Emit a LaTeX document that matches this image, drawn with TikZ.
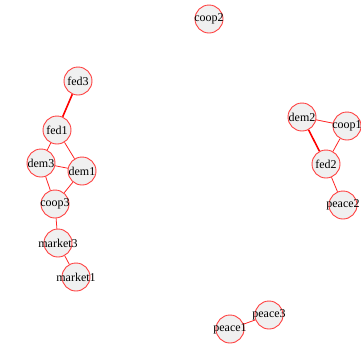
\documentclass[tikz,border=0pt]{standalone}
\usepackage{fontspec}
\setmainfont{Liberation Serif}
\begin{document}
\begin{tikzpicture}[x=1pt,y=-1pt,
  vert/.style={circle,draw=red!75,line width=0.9pt,fill=gray!12,minimum size=28pt,inner sep=0pt,
    font=\fontsize{12}{13}\selectfont},
  tie/.style={red!85,line width=0.8pt},
  strongtie/.style={red,line width=1.6pt}]
\useasboundingbox (0,0) rectangle (361,349);
% vertices (labels may overflow the fixed-size circle)
\newcommand{\vlabel}[1]{\makebox[0pt]{#1}}
\node[vert] (coop2) at (209,19) {\vlabel{coop2}};
\node[vert] (fed3) at (78,81) {\vlabel{fed3}};
\node[vert] (fed1) at (57,130) {\vlabel{fed1}};
\node[vert] (dem3) at (41,163) {\vlabel{dem3}};
\node[vert] (dem1) at (82,171) {\vlabel{dem1}};
\node[vert] (coop3) at (55,204) {\vlabel{coop3}};
\node[vert] (market3) at (58,243) {\vlabel{market3}};
\node[vert] (market1) at (76,277) {\vlabel{market1}};
\node[vert] (dem2) at (302,117) {\vlabel{dem2}};
\node[vert] (coop1) at (347,126) {\vlabel{coop1}};
\node[vert] (fed2) at (326,164) {\vlabel{fed2}};
\node[vert] (peace2) at (343,205) {\vlabel{peace2}};
\node[vert] (peace3) at (269,315) {\vlabel{peace3}};
\node[vert] (peace1) at (230,329) {\vlabel{peace1}};
% ties
\draw[strongtie] (fed3) -- (fed1);
\draw[tie] (fed1) -- (dem3);
\draw[tie] (fed1) -- (dem1);
\draw[tie] (dem3) -- (dem1);
\draw[tie] (dem3) -- (coop3);
\draw[tie] (dem1) -- (coop3);
\draw[tie] (coop3) -- (market3);
\draw[tie] (market3) -- (market1);
\draw[tie] (dem2) -- (coop1);
\draw[strongtie] (dem2) -- (fed2);
\draw[tie] (coop1) -- (fed2);
\draw[tie] (fed2) -- (peace2);
\draw[tie] (peace1) -- (peace3);
\end{tikzpicture}
\end{document}
